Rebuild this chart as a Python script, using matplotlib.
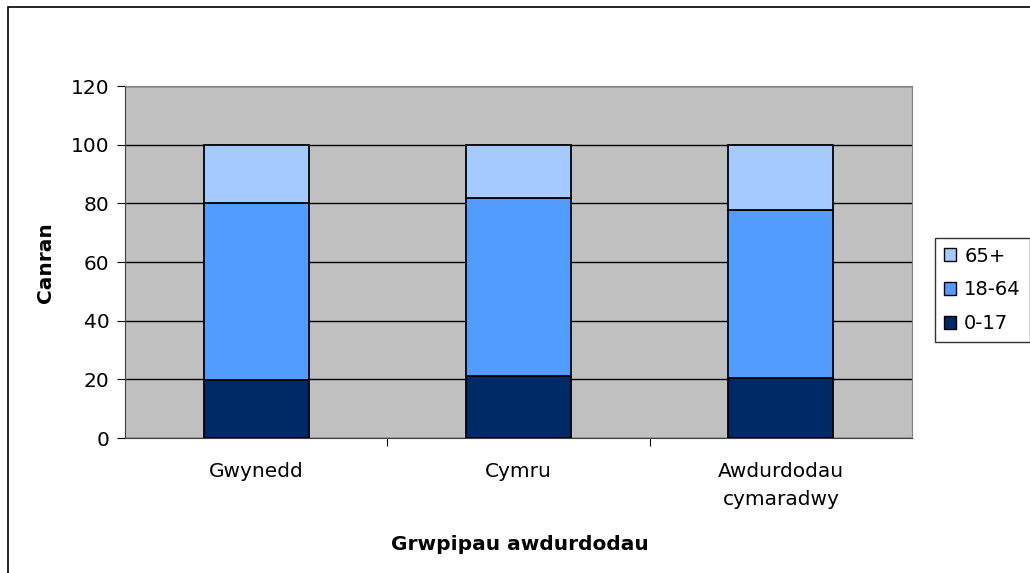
import matplotlib.pyplot as plt
from matplotlib.patches import Rectangle, Patch
import numpy as np

categories = ["Gwynedd", "Cymru", "Awdurdodau\ncymaradwy"]
age_0_17 = [19.8, 21.1, 20.4]
age_18_64 = [60.2, 60.6, 57.2]
age_65 = [20.0, 18.3, 22.4]
series_names = ["0-17", "18-64", "65+"]
colours = ["#002A66", "#529CFF", "#A5CAFF"]

W, H = 1030, 573
my_dpi = 100
fig = plt.figure(figsize=(W/my_dpi, H/my_dpi), dpi=my_dpi)
# outer chart border (right and bottom edges fall outside the picture)
fig.patches.append(Rectangle((8/W, -0.05), 1.1, (H-7)/H + 0.05, transform=fig.transFigure,
                             fill=False, edgecolor="black", linewidth=1.2))

ax = fig.add_axes([125/W, (H-438)/H, (912-125)/W, (438-86)/H])
ax.set_facecolor("#C0C0C0")

x = np.arange(len(categories))
bottom = np.zeros(len(categories))
for vals, col in zip([age_0_17, age_18_64, age_65], colours):
    ax.bar(x, vals, width=0.4, bottom=bottom, color=col, edgecolor="black", linewidth=1.3, zorder=3)
    bottom += np.array(vals)

ax.set_xlim(-0.5, len(categories) - 0.5)
ax.set_ylim(0, 120)
ax.set_yticks(range(0, 121, 20))
ax.yaxis.grid(True, color="black", linewidth=1.0, zorder=1)
ax.set_axisbelow(True)

ax.set_xticks([0.5, 1.5], minor=False)
ax.set_xticklabels([])
ax.set_xticks(x, minor=True)
ax.set_xticklabels(categories, minor=True, fontsize=14.5, linespacing=1.6)
ax.tick_params(axis="x", which="minor", length=0, pad=17)
ax.tick_params(axis="x", which="major", length=6, color="black")
ax.tick_params(axis="y", length=6, labelsize=14.5, pad=5)

for side in ["top", "right"]:
    ax.spines[side].set_color("#808080")
for side in ["left", "bottom"]:
    ax.spines[side].set_color("#404040")

fig.text(45/W, 1 - 263/H, "Canran", fontsize=14.5, fontweight="bold", rotation=90,
         ha="center", va="center")
fig.text(520/W, 1 - 545/H, "Grwpipau awdurdodau", fontsize=14.5, fontweight="bold",
         ha="center", va="center")

handles = [Patch(facecolor=c, edgecolor="black", label=n) for c, n in zip(colours, series_names)]
leg = fig.legend(handles[::-1], series_names[::-1], loc="upper left",
                 bbox_to_anchor=(935/W, (H-238)/H), fontsize=14,
                 frameon=True, fancybox=False, handlelength=0.65, handleheight=0.65,
                 handletextpad=0.4, labelspacing=0.75, borderpad=0.45, borderaxespad=0)
leg.get_frame().set_edgecolor("black")
leg.get_frame().set_linewidth(1.0)

fig.savefig("out.png", dpi=my_dpi)
